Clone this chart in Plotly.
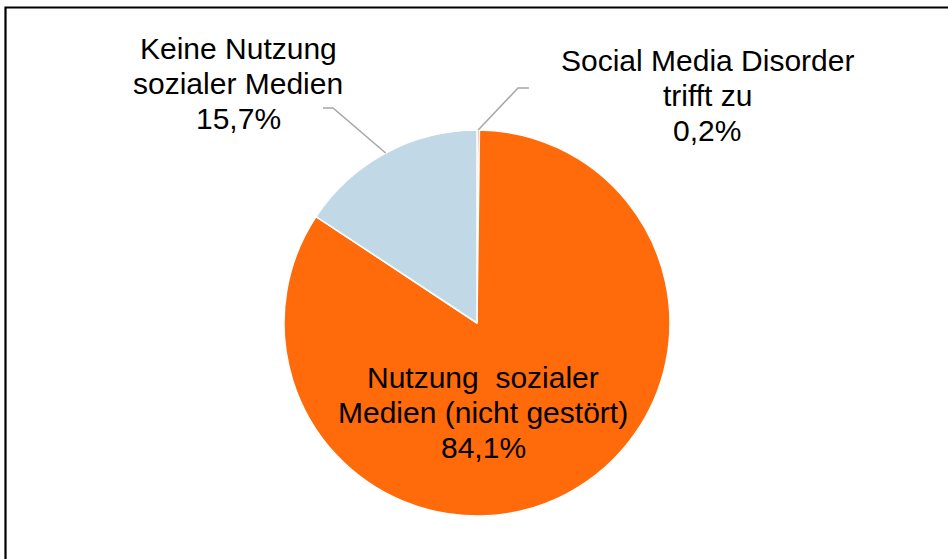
import math
import plotly.graph_objects as go

# Shares of adolescents (percent), slices clockwise from 12 o'clock
categories = [
    "Social Media Disorder trifft zu",
    "Nutzung sozialer Medien (nicht gestört)",
    "Keine Nutzung sozialer Medien",
]
shares = [0.2, 84.1, 15.7]
share_labels = ["0,2%", "84,1%", "15,7%"]
label_lines = [
    ["Social Media Disorder", "trifft zu"],
    ["Nutzung  sozialer", "Medien (nicht gestört)"],
    ["Keine Nutzung", "sozialer Medien"],
]
colors = ["#FF6A0A", "#FF6A0A", "#C1D9E6"]

W, H = 948, 559
CX, CY, R = 477, 323, 193          # pie centre and radius in pixels
FONT = "Liberation Sans, Arial, sans-serif"
FS = 30
LINE_GAP = 35


def px(x):
    return x / W


def py(y):
    return 1 - y / H


fig = go.Figure(
    go.Pie(
        labels=categories,
        values=shares,
        sort=False,
        direction="clockwise",
        rotation=0,
        marker=dict(colors=colors, line=dict(color="white", width=1.5)),
        textinfo="none",
        hoverinfo="label+percent",
        showlegend=False,
        domain=dict(x=[px(CX - R), px(CX + R)], y=[py(CY + R), py(CY - R)]),
    )
)

# label placement: (centre x of text block, baseline of first line) in pixels,
# plus the elbow of the leader line (None for labels inside the pie)
placements = [
    dict(x=707, y0=71, elbow=(518, 88), end=(529, 88)),
    dict(x=483, y0=388, elbow=None, end=None),
    dict(x=238, y0=59, elbow=(333, 108), end=(323, 108)),
]

annotations = []
shapes = []
total = sum(shares)
start = 0.0
for i, v in enumerate(shares):
    mid = start + v / 2
    start += v
    ang = 2 * math.pi * mid / total
    p = placements[i]
    lines = label_lines[i] + [share_labels[i]]
    for k, t in enumerate(lines):
        base = p["y0"] + k * LINE_GAP
        annotations.append(dict(
            x=px(p["x"]), y=py(base - 0.3465 * FS), xref="paper", yref="paper",
            text=t, showarrow=False, xanchor="center", yanchor="middle",
            font=dict(family=FONT, size=FS, color="#000000"),
        ))
    if p["elbow"] is not None:
        ex = CX + R * math.sin(ang)
        ey = CY - R * math.cos(ang)
        pts = [(ex, ey), p["elbow"], p["end"]]
        path = "M " + " L ".join(f"{px(a):.5f},{py(b):.5f}" for a, b in pts)
        shapes.append(dict(type="path", path=path, xref="paper", yref="paper",
                           line=dict(color="#A6A6A6", width=1.5)))

# chart frame
shapes.append(dict(type="rect", xref="paper", yref="paper",
                   x0=px(5.5), x1=1.02, y0=-0.02, y1=py(7.5),
                   line=dict(color="#000000", width=2.2), layer="above"))

fig.update_layout(
    width=W, height=H,
    margin=dict(l=0, r=0, t=0, b=0),
    paper_bgcolor="white", plot_bgcolor="white",
    annotations=annotations, shapes=shapes,
)

fig.write_html("out.html")
